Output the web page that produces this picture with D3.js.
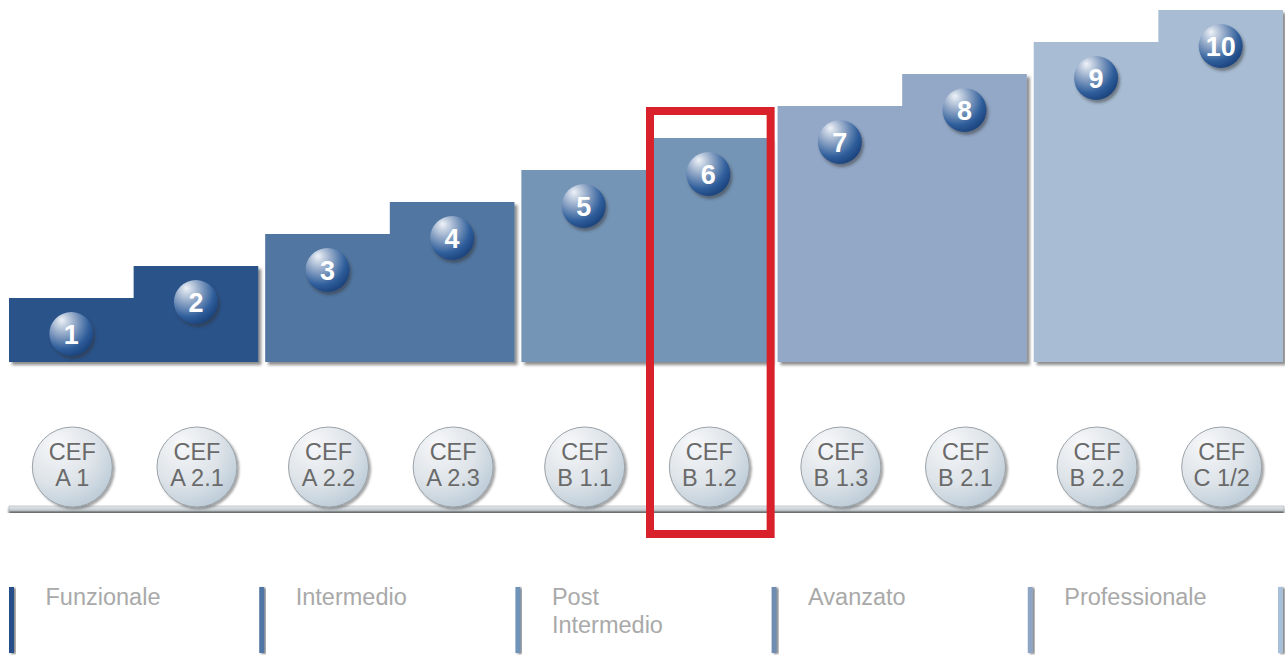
<!DOCTYPE html>
<html>
<head>
<meta charset="utf-8">
<script src="https://cdn.jsdelivr.net/npm/d3@7"></script>
<style>
  html, body { margin: 0; padding: 0; background: #fff; overflow: hidden; }
  #graph { width: 1285px; height: 655px; }
</style>
</head>
<body>
<div id="graph"></div>
<script>
// levels 1..10, height of each step (in "steps" above the floor)
const levels = ["1", "2", "3", "4", "5", "6", "7", "8", "9", "10"];
const levelHeights = [2, 3, 4, 5, 6, 7, 8, 9, 10, 11];
const cefLevels = ["A 1", "A 2.1", "A 2.2", "A 2.3", "B 1.1", "B 1.2", "B 1.3", "B 2.1", "B 2.2", "C 1/2"];
const groups = [["Funzionale"], ["Intermedio"], ["Post", "Intermedio"], ["Avanzato"], ["Professionale"]];
const groupColors = ["#29538a", "#5176a1", "#7495b6", "#93a8c7", "#a8bdd4"];
const legendColors = ["#27508a", "#4f76a5", "#7093b8", "#6f8db1", "#8ea5c6", "#a7bfd8"];
const highlighted = 5; // index of the boxed level (6 / B 1.2)

const width = document.getElementById('graph').clientWidth;
const height = document.getElementById('graph').clientHeight;

const floor_y = 362;
const cef_y = 467;
const rail_y = 506;

const x = d3.scaleBand()
  .domain(d3.range(groups.length))
  .range([9, 1283])
  .paddingInner(0.027);

const y = d3.scaleLinear()
  .domain([0, 11])
  .range([floor_y, 10]);

const half = x.bandwidth() / 2;
const gap = x.step() - x.bandwidth();
function step_x(i) { return x(Math.floor(i / 2)) + (i % 2) * half; }
function step_center(i) { return step_x(i) + half / 2; }

// legend markers sit in the gaps between groups (and at both ends)
function marker_x(i) {
  if (i === 0) return x(0) + 2.5;
  if (i === groups.length) return x(groups.length - 1) + x.bandwidth() - 2.5;
  return x(i) - gap / 2;
}

const svg = d3.select('#graph')
  .append('svg')
  .attr('width', width)
  .attr('height', height);

const defs = svg.append('defs');

function shadow(id, dx, dy, sd, op) {
  const f = defs.append('filter').attr('id', id)
    .attr('x', '-20%').attr('y', '-20%').attr('width', '150%').attr('height', '150%');
  f.append('feDropShadow')
    .attr('dx', dx).attr('dy', dy).attr('stdDeviation', sd)
    .attr('flood-color', '#333').attr('flood-opacity', op);
}
shadow('blockShadow', 3, 3, 1.5, 0.55);
shadow('ballShadow', 2, 3, 1.5, 0.5);
shadow('cefShadow', 2, 2, 1.2, 0.45);
shadow('railShadow', 0, 3, 1.2, 0.75);
shadow('barShadow', 2, 1, 1, 0.6);

// blue numbered ball
const bg = defs.append('radialGradient').attr('id', 'ballGrad')
  .attr('cx', '0.35').attr('cy', '0.3').attr('r', '0.8')
  .attr('fx', '0.28').attr('fy', '0.18');
bg.append('stop').attr('offset', '0%').attr('stop-color', '#eef2f7');
bg.append('stop').attr('offset', '35%').attr('stop-color', '#93a9c8');
bg.append('stop').attr('offset', '72%').attr('stop-color', '#2f5e9b');
bg.append('stop').attr('offset', '100%').attr('stop-color', '#143b73');

// silver CEF ball
const cg = defs.append('radialGradient').attr('id', 'cefGrad')
  .attr('cx', '0.35').attr('cy', '0.3').attr('r', '0.85')
  .attr('fx', '0.3').attr('fy', '0.2');
cg.append('stop').attr('offset', '0%').attr('stop-color', '#f7f8fa');
cg.append('stop').attr('offset', '55%').attr('stop-color', '#dde3e8');
cg.append('stop').attr('offset', '100%').attr('stop-color', '#b3c5d3');

const rg = defs.append('linearGradient').attr('id', 'railGrad')
  .attr('x1', 0).attr('y1', 0).attr('x2', 0).attr('y2', 1);
rg.append('stop').attr('offset', '0%').attr('stop-color', '#e6eaed');
rg.append('stop').attr('offset', '100%').attr('stop-color', '#bdc6cc');

// staircase blocks, two levels per group
groups.forEach((g, gi) => {
  const a = gi * 2, b = gi * 2 + 1;
  const x0 = x(gi), x1 = x(gi) + x.bandwidth(), xm = x0 + half;
  const p = d3.path();
  p.moveTo(x0, y(0));
  p.lineTo(x0, y(levelHeights[a]));
  p.lineTo(xm, y(levelHeights[a]));
  p.lineTo(xm, y(levelHeights[b]));
  p.lineTo(x1, y(levelHeights[b]));
  p.lineTo(x1, y(0));
  p.closePath();
  svg.append('path')
    .attr('d', p.toString())
    .attr('fill', groupColors[gi])
    .attr('filter', 'url(#blockShadow)');
});

// numbered balls
const balls = svg.selectAll('g.ball')
  .data(levels)
  .join('g')
  .attr('class', 'ball')
  .attr('transform', (d, i) => `translate(${step_center(i)}, ${y(levelHeights[i]) + 36})`);

balls.append('circle')
  .attr('r', 22)
  .attr('fill', 'url(#ballGrad)')
  .attr('filter', 'url(#ballShadow)');

balls.append('text')
  .attr('text-anchor', 'middle')
  .attr('dy', '0.37em')
  .attr('font-family', '"Liberation Sans", Arial, sans-serif')
  .attr('font-weight', 'bold')
  .attr('font-size', 27)
  .attr('fill', '#fff')
  .text(d => d);

// rail under CEF balls
svg.append('rect')
  .attr('x', x(0))
  .attr('y', rail_y)
  .attr('width', x(groups.length - 1) + x.bandwidth() - x(0) + 1)
  .attr('height', 5)
  .attr('fill', 'url(#railGrad)')
  .attr('stroke', '#a7adb2')
  .attr('stroke-width', 0.6)
  .attr('filter', 'url(#railShadow)');

// CEF balls
const cef = svg.selectAll('g.cef')
  .data(cefLevels)
  .join('g')
  .attr('class', 'cef')
  .attr('transform', (d, i) => `translate(${step_center(i) + 1}, ${cef_y})`);

cef.append('circle')
  .attr('r', 40)
  .attr('fill', 'url(#cefGrad)')
  .attr('stroke', '#9aa2a8')
  .attr('stroke-width', 1)
  .attr('filter', 'url(#cefShadow)');

cef.append('text')
  .attr('text-anchor', 'middle')
  .attr('font-family', '"Liberation Sans", Arial, sans-serif')
  .attr('font-size', 23.5)
  .attr('fill', '#6a6a6a')
  .selectAll('tspan')
  .data(d => ["CEF", d])
  .join('tspan')
  .attr('x', 0)
  .attr('y', (d, i) => i === 0 ? -7 : 19)
  .text(d => d);

// highlight box
const hy = y(levelHeights[highlighted]) - 27;
svg.append('rect')
  .attr('x', step_x(highlighted) + 4)
  .attr('y', hy)
  .attr('width', half - 4)
  .attr('height', 534 - hy)
  .attr('fill', 'none')
  .attr('stroke', '#d9212b')
  .attr('stroke-width', 8);

// legend markers and group names
svg.selectAll('rect.marker')
  .data(legendColors)
  .join('rect')
  .attr('class', 'marker')
  .attr('x', (d, i) => marker_x(i) - 2.5)
  .attr('y', 587)
  .attr('width', 5)
  .attr('height', 66)
  .attr('fill', d => d)
  .attr('filter', 'url(#barShadow)');

svg.selectAll('text.group')
  .data(groups)
  .join('text')
  .attr('class', 'group')
  .attr('font-family', '"Liberation Sans", Arial, sans-serif')
  .attr('font-size', 23.5)
  .attr('fill', '#a9a9a9')
  .selectAll('tspan')
  .data((d, gi) => d.map(t => ({ t, gi })))
  .join('tspan')
  .attr('x', d => marker_x(d.gi) + 34)
  .attr('y', (d, i) => 605 + i * 28)
  .text(d => d.t);
</script>
</body>
</html>
